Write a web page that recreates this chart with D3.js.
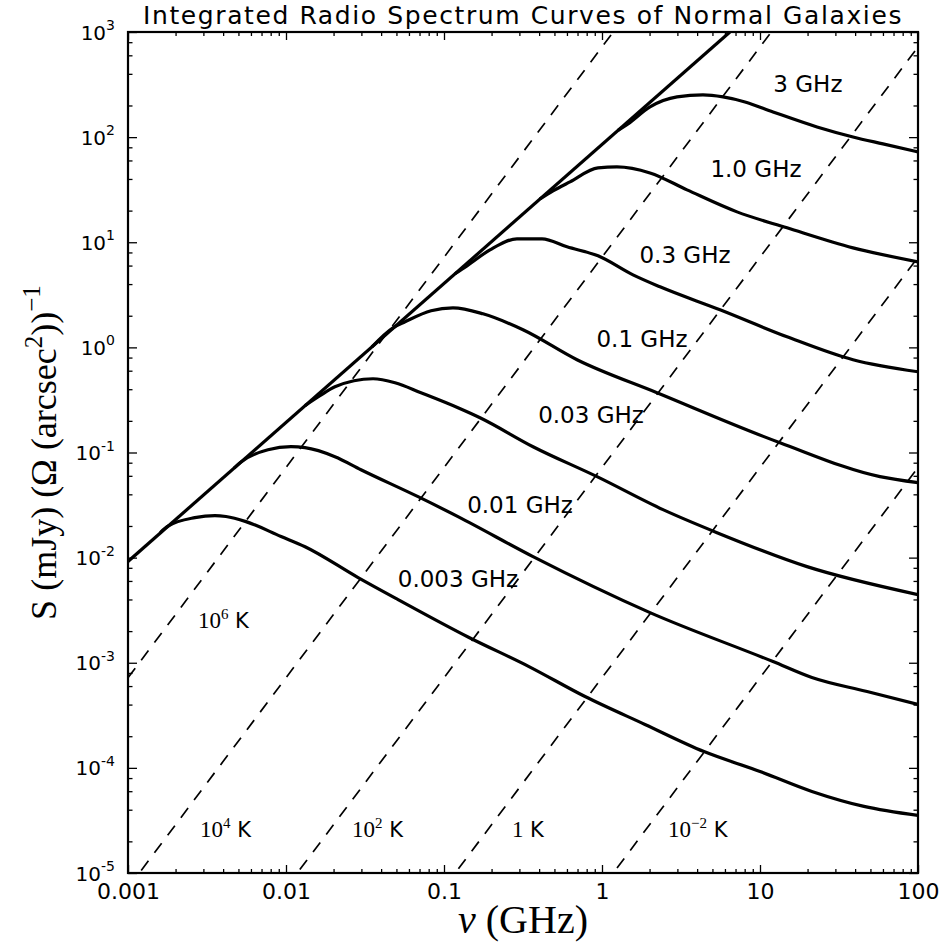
<!DOCTYPE html>
<html><head><meta charset="utf-8">
<script src="https://cdn.jsdelivr.net/npm/d3@7"></script>
<style>body{margin:0;background:#fff}</style>
</head><body>
<svg id="chart" width="947" height="944"></svg>
<script>
// ---- data ----
const xTickValues = [0.001, 0.01, 0.1, 1, 10, 100];
const xTickLabels = ["0.001", "0.01", "0.1", "1", "10", "100"];
const yTickExponents = [-5, -4, -3, -2, -1, 0, 1, 2, 3];
const xMinorMultipliers = [2, 3, 4, 5, 6, 7, 8, 9];
const yMinorMultipliers = [2, 4, 6, 8];

// envelope (thick straight line)
const envelopeNu = [0.001, 6.45];
const envelopeS = [9.2e-3, 1000];

// brightness-temperature lines: S at 0.001 GHz and at 100 GHz
const tempLineNu = [0.001, 100];
const tempLineSStart = [7.2e-4, 7.2e-6, 7.2e-8, 7.2e-10, 7.2e-12];
const tempLineSEnd = [7.2e6, 7.2e4, 7.2e2, 7.2, 7.2e-2];

// temperature labels (left edge position)
const tempLabelBase = ["10", "10", "10", "1", "10"];
const tempLabelExp = ["6", "4", "2", "", "\u22122"];
const tempLabelNu = [0.00277, 0.00286, 0.0262, 0.269, 2.62];
const tempLabelS = [2.16e-3, 2.18e-5, 2.18e-5, 2.18e-5, 2.18e-5];

// spectrum curves (nu in GHz, S in mJy)
const curveLabels = ["0.003 GHz", "0.01 GHz", "0.03 GHz", "0.1 GHz", "0.3 GHz", "1.0 GHz", "3 GHz"];
const curveLabelNu = [0.1226, 0.3027, 0.852, 1.791, 3.353, 9.43, 20.1];
const curveLabelS = [5.30e-3, 0.0268, 0.192, 1.013, 6.37, 41.9, 269];

const nu003 = [0.00160, 0.00179, 0.00265, 0.00355, 0.00417, 0.00558, 0.0093, 0.0132, 0.0286, 0.0512, 0.144, 0.345, 0.781, 1.87, 4.42, 10, 21.3, 45.5, 100];
const S003  = [0.0173, 0.0199, 0.0240, 0.0251, 0.0246, 0.0220, 0.0159, 0.0127, 0.00646, 0.00399, 0.00174, 9.2e-4, 4.77e-4, 2.59e-4, 1.43e-4, 9.25e-5, 5.97e-5, 4.30e-5, 3.53e-5];

const nu01 = [0.00469, 0.00519, 0.00769, 0.01075, 0.01319, 0.0204, 0.0298, 0.0685, 0.1226, 0.366, 2.013, 12.09, 21.3, 47.6, 100];
const S01  = [0.0711, 0.0812, 0.1063, 0.1135, 0.1111, 0.0912, 0.0686, 0.0380, 0.02455, 0.01022, 2.998e-3, 1.026e-3, 7.23e-4, 5.32e-4, 4.01e-4];

const nu03 = [0.01319, 0.01641, 0.0204, 0.03554, 0.04896, 0.0715, 0.1226, 0.169, 0.366, 0.930, 2.432, 5.343, 19.84, 100];
const S03  = [0.2791, 0.3467, 0.4221, 0.5029, 0.4609, 0.3702, 0.2666, 0.2142, 0.1135, 0.0589, 0.0286, 0.01728, 8.21e-3, 4.45e-3];

const nu1 = [0.0350, 0.04755, 0.0567, 0.0828, 0.114, 0.1765, 0.3162, 0.6946, 2.229, 13.38, 57.46, 100];
const S1  = [1.013, 1.536, 1.751, 2.228, 2.378, 2.086, 1.470, 0.7624, 0.3702, 0.1239, 0.0589, 0.05162];

const nu3 = [0.1174, 0.1398, 0.1955, 0.2897, 0.4173, 0.6006, 0.9434, 1.571, 2.329, 5.582, 14.83, 38.79, 100];
const S3  = [5.019, 5.967, 8.469, 10.77, 10.77, 9.045, 7.428, 4.898, 3.767, 2.277, 1.261, 0.7624, 0.5862];

const nu10 = [0.4052, 0.4897, 0.6272, 0.9434, 1.244, 2.013, 3.451, 7.152, 14.83, 38.79, 100];
const S10  = [25.80, 30.81, 37.52, 50.95, 52.08, 45.67, 31.49, 19.45, 13.71, 8.847, 6.514];

const nu30 = [1.263, 1.461, 2.013, 2.984, 4.357, 5.833, 8.037, 12.09, 22.95, 38.79, 60.03, 100];
const S30  = [115.8, 133.5, 193.7, 241.1, 251.8, 241.1, 216.1, 173.6, 125.0, 100.4, 86.17, 72.33];

const curveNu = [nu003, nu01, nu03, nu1, nu3, nu10, nu30];
const curveS = [S003, S01, S03, S1, S3, S10, S30];

// ---- drawing ----
const L = 128, R = 918, T = 32, B = 873;
const x = d3.scaleLog().domain([0.001, 100]).range([L, R]);
const y = d3.scaleLog().domain([1e-5, 1e3]).range([B, T]);
const svg = d3.select("#chart");
svg.append("rect").attr("width", 947).attr("height", 944).attr("fill", "#fff");
svg.append("defs").append("clipPath").attr("id", "clip")
  .append("rect").attr("x", L).attr("y", T).attr("width", R - L).attr("height", B - T);
const plot = svg.append("g").attr("clip-path", "url(#clip)");
const line = d3.line().x(d => x(d[0])).y(d => y(d[1]));
const smooth = d3.line().x(d => x(d[0])).y(d => y(d[1])).curve(d3.curveMonotoneX);

// dashed temperature lines
tempLineSStart.forEach((s0, i) => {
  plot.append("path")
    .datum([[tempLineNu[0], s0], [tempLineNu[1], tempLineSEnd[i]]])
    .attr("d", line).attr("fill", "none").attr("stroke", "#000")
    .attr("stroke-width", 1.7).attr("stroke-dasharray", "12,10");
});

// envelope
plot.append("path")
  .datum(envelopeNu.map((n, i) => [n, envelopeS[i]]))
  .attr("d", line).attr("fill", "none").attr("stroke", "#000").attr("stroke-width", 3.2);

// curves
curveNu.forEach((nus, k) => {
  plot.append("path")
    .datum(nus.map((n, i) => [n, curveS[k][i]]))
    .attr("d", smooth).attr("fill", "none").attr("stroke", "#000")
    .attr("stroke-width", 3.2).attr("stroke-linejoin", "round").attr("stroke-linecap", "butt");
});

// curve labels
curveLabels.forEach((t, i) => {
  svg.append("text").attr("x", x(curveLabelNu[i])).attr("y", y(curveLabelS[i]))
    .attr("text-anchor", "middle").attr("font-family", "DejaVu Sans")
    .attr("font-size", 23).text(t);
});

// temperature labels
tempLabelBase.forEach((b, i) => {
  const t = svg.append("text").attr("x", x(tempLabelNu[i])).attr("y", y(tempLabelS[i]))
    .attr("font-size", 23);
  t.append("tspan").attr("font-family", "Liberation Serif").text(b);
  if (tempLabelExp[i]) t.append("tspan").attr("font-family", "Liberation Serif")
    .attr("font-size", 15).attr("dy", -9).text(tempLabelExp[i]);
  t.append("tspan").attr("font-family", "DejaVu Sans").attr("font-size", 21)
    .attr("dy", tempLabelExp[i] ? 9 : 0).text("\u00a0K");
});

// axes: major & minor ticks on all four sides (inward)
const xMinor = [];
[0.001, 0.01, 0.1, 1, 10].forEach(d => xMinorMultipliers.forEach(m => xMinor.push(d * m)));
const yMinor = [];
yTickExponents.slice(0, -1).forEach(e => yMinorMultipliers.forEach(m => yMinor.push(m * Math.pow(10, e))));

function styleAxis(g) {
  g.select(".domain").remove();
  g.selectAll(".tick line").attr("stroke", "#000").attr("stroke-width", 1.3);
}
svg.append("g").attr("transform", `translate(0,${B})`)
  .call(d3.axisBottom(x).tickValues(xTickValues).tickSize(-8).tickSizeOuter(0).tickPadding(10)
    .tickFormat((d, i) => xTickLabels[i]))
  .call(styleAxis)
  .call(g => g.selectAll("text").attr("font-family", "DejaVu Sans").attr("font-size", 22).attr("fill", "#000"));
svg.append("g").attr("transform", `translate(0,${B})`)
  .call(d3.axisBottom(x).tickValues(xMinor).tickSize(-4).tickSizeOuter(0).tickFormat(""))
  .call(styleAxis);
svg.append("g").attr("transform", `translate(0,${T})`)
  .call(d3.axisTop(x).tickValues(xTickValues).tickSize(-8).tickSizeOuter(0).tickFormat(""))
  .call(styleAxis);
svg.append("g").attr("transform", `translate(0,${T})`)
  .call(d3.axisTop(x).tickValues(xMinor).tickSize(-4).tickSizeOuter(0).tickFormat(""))
  .call(styleAxis);
const yMajor = yTickExponents.map(e => Math.pow(10, e));
svg.append("g").attr("transform", `translate(${L},0)`)
  .call(d3.axisLeft(y).tickValues(yMajor).tickSize(-9).tickSizeOuter(0).tickFormat(""))
  .call(styleAxis);
svg.append("g").attr("transform", `translate(${L},0)`)
  .call(d3.axisLeft(y).tickValues(yMinor).tickSize(-4.5).tickSizeOuter(0).tickFormat(""))
  .call(styleAxis);
svg.append("g").attr("transform", `translate(${R},0)`)
  .call(d3.axisRight(y).tickValues(yMajor).tickSize(-9).tickSizeOuter(0).tickFormat(""))
  .call(styleAxis);
svg.append("g").attr("transform", `translate(${R},0)`)
  .call(d3.axisRight(y).tickValues(yMinor).tickSize(-4.5).tickSizeOuter(0).tickFormat(""))
  .call(styleAxis);

// y tick labels 10^n
yTickExponents.forEach(e => {
  const t = svg.append("text").attr("x", 115).attr("y", y(Math.pow(10, e)) + 7.5)
    .attr("text-anchor", "end").attr("font-family", "DejaVu Sans").attr("font-size", 20);
  t.append("tspan").text("10");
  t.append("tspan").attr("font-size", 14).attr("dy", -9.5).text(e < 0 ? "-" + (-e) : String(e));
});

// frame
svg.append("rect").attr("x", L).attr("y", T).attr("width", R - L).attr("height", B - T)
  .attr("fill", "none").attr("stroke", "#000").attr("stroke-width", 2.2);

// title
svg.append("text").attr("x", (L + R) / 2).attr("y", 24).attr("text-anchor", "middle")
  .attr("font-family", "DejaVu Sans").attr("font-size", 25).attr("letter-spacing", 1.6)
  .text("Integrated Radio Spectrum Curves of Normal Galaxies");

// x label
const xl = svg.append("text").attr("x", (L + R) / 2).attr("y", 933).attr("text-anchor", "middle")
  .attr("font-family", "Liberation Serif").attr("font-size", 40);
xl.append("tspan").attr("font-style", "italic").text("\u03bd");
xl.append("tspan").text(" (GHz)");

// y label
const yl = svg.append("text").attr("transform", `translate(56,${(T + B) / 2}) rotate(-90)`)
  .attr("text-anchor", "middle").attr("font-family", "Liberation Serif").attr("font-size", 36);
yl.append("tspan").text("S (mJy) (\u03a9 (arcsec");
yl.append("tspan").attr("font-size", 25).attr("dy", -14).text("2");
yl.append("tspan").attr("dy", 14).text("))");
yl.append("tspan").attr("font-size", 25).attr("dy", -16).text("\u22121");
</script>
</body></html>
